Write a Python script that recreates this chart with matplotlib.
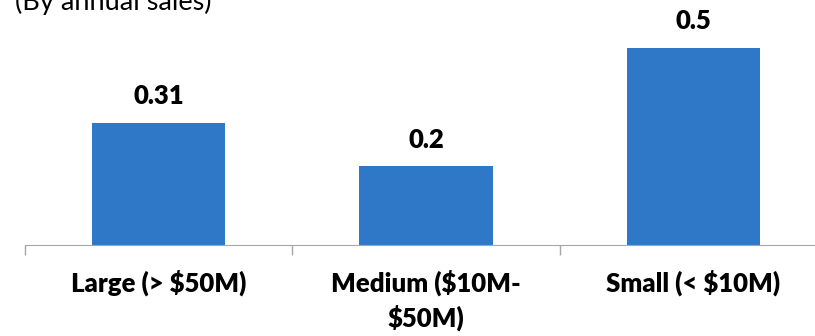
import matplotlib
matplotlib.use("Agg")
import matplotlib.pyplot as plt

# annual-sales segments and their values
categories = ["Large (> $50M)", "Medium ($10M-\n$50M)", "Small (< $10M)"]
values = [0.31, 0.2, 0.5]
value_labels = ["0.31", "0.2", "0.5"]

plt.rcParams['font.family'] = ['Lato', 'DejaVu Sans']

fig = plt.figure(figsize=(8.15, 3.36), dpi=100)
W, H = 815, 336
# axes spills past the right edge like the original slide crop
ax = fig.add_axes([24.75 / W, (H - 245) / H, 802.5 / W, 237 / H])

x = range(len(categories))
ax.bar(x, values, width=0.5, color='#2F78C8')

for xi, v, lab in zip(x, values, value_labels):
    ax.annotate(lab, (xi, v), xytext=(0, 19), textcoords='offset points',
                ha='center', va='center', fontsize=18.5, fontweight='heavy')

ax.set_xlim(-0.5, 2.5)
ax.set_ylim(0, 0.6)
ax.set_xticks([-0.5, 0.5, 1.5, 2.5])
ax.set_xticks(list(x), minor=True)
ax.set_xticklabels([])
ax.set_xticklabels(categories, minor=True, fontsize=18.5, fontweight='heavy',
                   linespacing=1.35)
ax.tick_params(axis='x', which='major', length=7.5, width=1, color='#A6A6A6')
ax.tick_params(axis='x', which='minor', length=0, pad=18)
ax.set_yticks([])
for s in ['top', 'right', 'left']:
    ax.spines[s].set_visible(False)
ax.spines['bottom'].set_color('#A6A6A6')

fig.text(15 / W, 1 - 10 / H, "(By annual sales)", fontsize=19.5, va='baseline',
         ha='left')

fig.savefig("out.png", dpi=100)
